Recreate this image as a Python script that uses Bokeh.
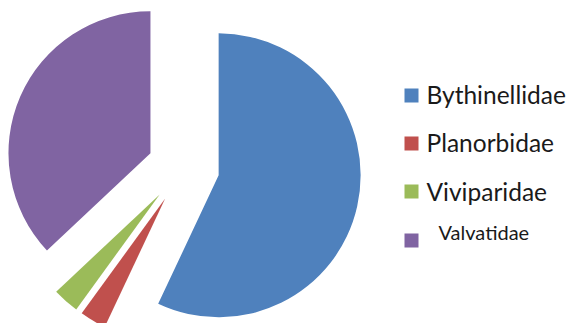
import math
from bokeh.plotting import figure
from bokeh.models import Range1d, ColumnDataSource
from bokeh.core.properties import value
from bokeh.embed import file_html
from bokeh.resources import INLINE

# ---- data ----
families = ["Bythinellidae", "Planorbidae", "Viviparidae", "Valvatidae"]
shares = [57, 3, 3, 37]

# ---- styles ----
colors = ["#4F81BD", "#C0504D", "#9BBB59", "#8064A2"]
label_sizes = ["24.5px", "24.5px", "24.5px", "20px"]

W, H = 571, 323
p = figure(width=W, height=H, x_range=Range1d(0, W), y_range=Range1d(0, H),
           output_backend="svg", toolbar_location=None, min_border=0,
           x_axis_type=None, y_axis_type=None)
p.grid.visible = False
p.outline_line_color = None
p.background_fill_color = "white"
p.border_fill_color = "white"

cx, cy, r, explode = 183, 156, 142, 36
total = float(sum(shares))
xs, ys, sa, ea = [], [], [], []
cum = 0.0
for s in shares:
    a0 = cum / total * 2 * math.pi
    cum += s
    a1 = cum / total * 2 * math.pi
    mid = (a0 + a1) / 2
    xs.append(cx + explode * math.sin(mid))
    ys.append(cy + explode * math.cos(mid))
    sa.append(math.pi / 2 - a0)
    ea.append(math.pi / 2 - a1)

src = ColumnDataSource(dict(x=xs, y=ys, start=sa, end=ea, color=colors, name=families))
p.wedge(x="x", y="y", radius=r, start_angle="start", end_angle="end",
        direction="clock", fill_color="color", line_color=None, source=src)

# ---- legend (manual) ----
sq_x = 411
sq_y = [228, 180, 132, 83]
tx_x = [426, 426, 426, 438]
tx_y = [229, 181, 132, 92]
leg = ColumnDataSource(dict(sx=[sq_x] * 4, sy=sq_y, tx=tx_x, ty=tx_y, color=colors,
                            name=families, size=label_sizes))
p.rect(x="sx", y="sy", width=14, height=14, fill_color="color", line_color=None, source=leg)
p.text(x="tx", y="ty", text="name", text_font=value("Lato"), text_font_size="size",
       text_baseline="middle", text_align="left", text_color="#1a1a1a", source=leg)

open("out.html", "w").write(file_html(p, INLINE))
